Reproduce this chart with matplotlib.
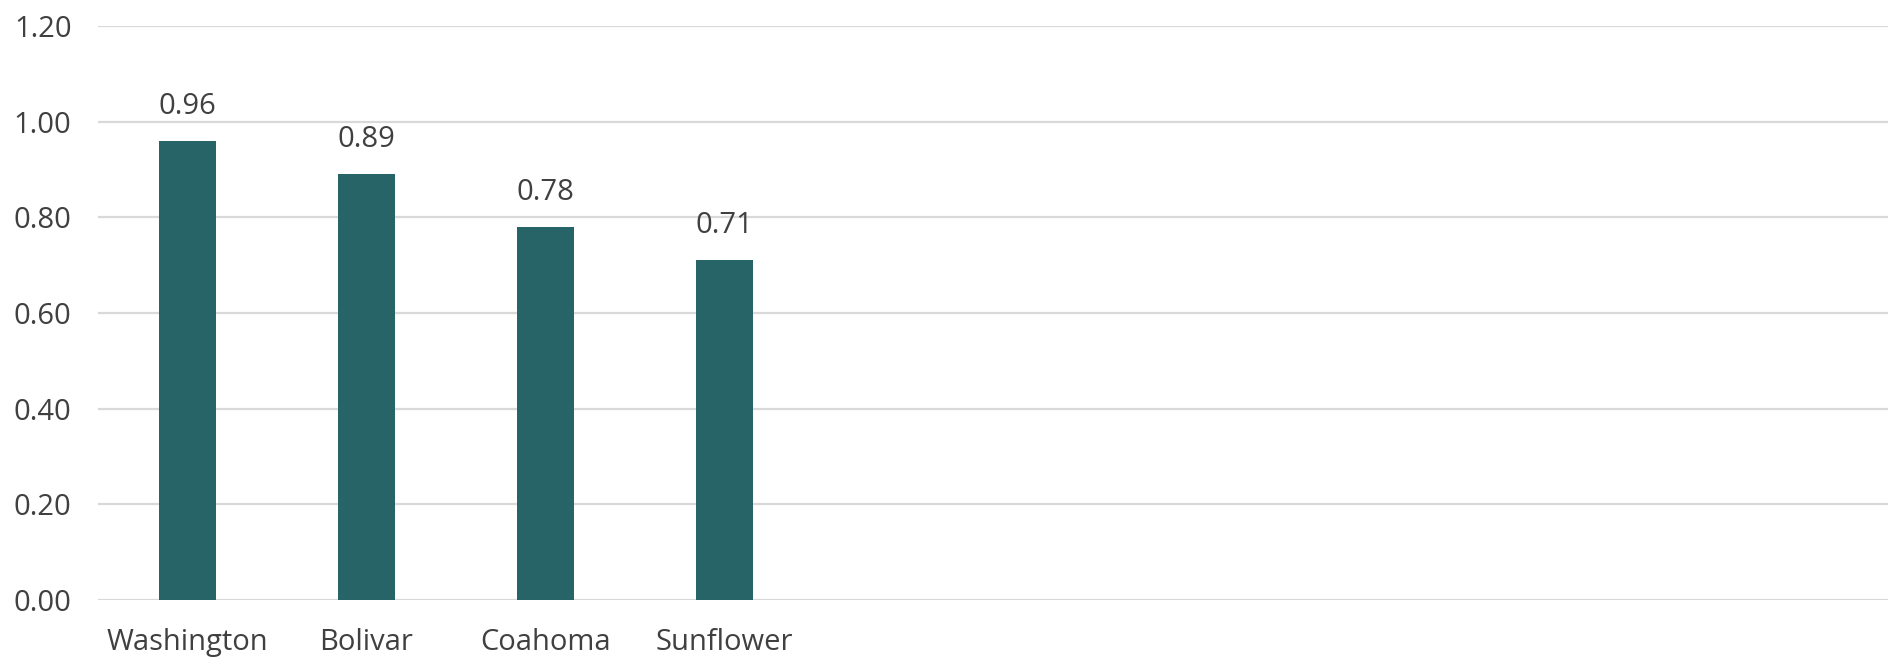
import matplotlib.pyplot as plt
import numpy as np

plt.rcParams['font.family'] = ['Open Sans', 'DejaVu Sans']
plt.rcParams['font.size'] = 21

# Data
COUNTIES = ["Washington", "Bolivar", "Coahoma", "Sunflower"]
VALUES = [0.96, 0.89, 0.78, 0.71]
Y_TICKS = [0.0, 0.2, 0.4, 0.6, 0.8, 1.0, 1.2]

BAR_COLOR = "#276468"
GRID_COLOR = "#d9d9d9"
TEXT_COLOR = "#404040"
N_SLOTS = 10  # the source chart reserves room for 10 categories


def main():
    fig = plt.figure(figsize=(18.98, 6.58), dpi=100)
    ax = fig.add_axes([0.0516, 0.0881, 0.9431, 0.8724])

    x = np.arange(len(COUNTIES))
    bars = ax.bar(x, VALUES, width=0.32, color=BAR_COLOR, zorder=3)
    ax.bar_label(bars, labels=[f"{v:.2f}" for v in VALUES], padding=14.5,
                 color=TEXT_COLOR, fontsize=21)

    ax.set_xlim(-0.5, N_SLOTS - 0.5)
    ax.set_ylim(0, 1.2)
    ax.set_xticks(x)
    ax.set_xticklabels(COUNTIES, color=TEXT_COLOR)
    ax.set_yticks(Y_TICKS)
    ax.set_yticklabels([f"{t:.2f}" for t in Y_TICKS], color=TEXT_COLOR)

    ax.grid(axis="y", color=GRID_COLOR, linewidth=1.6, zorder=0)
    ax.tick_params(axis="both", length=0)
    ax.tick_params(axis="y", pad=19)
    ax.tick_params(axis="x", pad=20)
    for spine in ax.spines.values():
        spine.set_visible(False)

    fig.savefig("out.png", dpi=100, facecolor="white")
    plt.close(fig)


if __name__ == "__main__":
    main()
